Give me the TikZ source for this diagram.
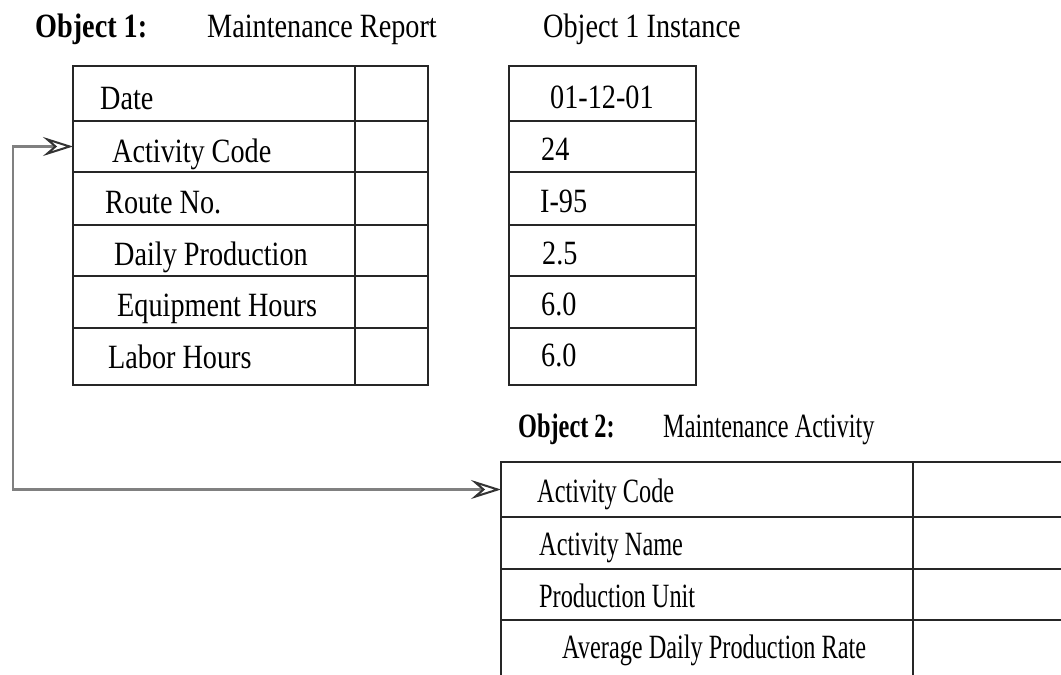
\documentclass[tikz,border=0pt]{standalone}
\usepackage{fontspec}
\setmainfont{Liberation Serif}[FakeStretch=0.83]
\newfontfamily\narrowfont{Liberation Serif}[FakeStretch=0.715]
\usetikzlibrary{arrows.meta}
\tikzset{
  cell/.style={draw=black!85, line width=1.7pt, rectangle, anchor=north west, inner sep=0pt, outer sep=0pt},
  txt/.style={anchor=base west, inner sep=0pt, font=\fontsize{34}{40}\selectfont},
  btxt/.style={txt, font=\fontsize{34}{40}\selectfont\bfseries},
  ntxt/.style={anchor=base west, inner sep=0pt, font=\fontsize{34}{40}\narrowfont},
  nbtxt/.style={anchor=base west, inner sep=0pt, font=\fontsize{34}{40}\narrowfont\bfseries},
  opentip/.tip={Stealth[open, length=30pt, width=19pt, inset=11pt, line width=2pt, color=black!80]},
  conn/.style={draw=black!50, line width=2.6pt, opentip-opentip}
}
\begin{document}
\begin{tikzpicture}[x=1pt,y=-1pt]
\clip (0,0) rectangle (1061,675);
\fill[white] (0,0) rectangle (1061,675);
% headers
\node[btxt] (h1) at (35,37) {Object 1:};
\node[txt] (h1n) at (207,37) {Maintenance Report};
\node[txt] (h1i) at (543,37) {Object 1 Instance};
\node[nbtxt] (h2) at (518,437) {Object 2:};
\node[ntxt] (h2n) at (663,437) {Maintenance Activity};
% table 1 : labels
\node[cell, minimum width=282pt, minimum height=55pt] (t1a) at (73,66) {};
\node[cell, minimum width=282pt, minimum height=51pt] (t1b) at (73,121) {};
\node[cell, minimum width=282pt, minimum height=53pt] (t1c) at (73,172) {};
\node[cell, minimum width=282pt, minimum height=51pt] (t1d) at (73,225) {};
\node[cell, minimum width=282pt, minimum height=52pt] (t1e) at (73,276) {};
\node[cell, minimum width=282pt, minimum height=57pt] (t1f) at (73,328) {};
% table 1 : value column
\node[cell, minimum width=73pt, minimum height=55pt] (v1a) at (355,66) {};
\node[cell, minimum width=73pt, minimum height=51pt] (v1b) at (355,121) {};
\node[cell, minimum width=73pt, minimum height=53pt] (v1c) at (355,172) {};
\node[cell, minimum width=73pt, minimum height=51pt] (v1d) at (355,225) {};
\node[cell, minimum width=73pt, minimum height=52pt] (v1e) at (355,276) {};
\node[cell, minimum width=73pt, minimum height=57pt] (v1f) at (355,328) {};
% instance table
\node[cell, minimum width=187pt, minimum height=55pt] (i1a) at (509,66) {};
\node[cell, minimum width=187pt, minimum height=51pt] (i1b) at (509,121) {};
\node[cell, minimum width=187pt, minimum height=53pt] (i1c) at (509,172) {};
\node[cell, minimum width=187pt, minimum height=51pt] (i1d) at (509,225) {};
\node[cell, minimum width=187pt, minimum height=52pt] (i1e) at (509,276) {};
\node[cell, minimum width=187pt, minimum height=57pt] (i1f) at (509,328) {};
% table 2
\node[cell, minimum width=412pt, minimum height=55pt] (t2a) at (501,462) {};
\node[cell, minimum width=412pt, minimum height=52pt] (t2b) at (501,517) {};
\node[cell, minimum width=412pt, minimum height=51pt] (t2c) at (501,569) {};
\node[cell, minimum width=412pt, minimum height=90pt] (t2d) at (501,620) {};
\node[cell, minimum width=200pt, minimum height=55pt] (v2a) at (913,462) {};
\node[cell, minimum width=200pt, minimum height=52pt] (v2b) at (913,517) {};
\node[cell, minimum width=200pt, minimum height=51pt] (v2c) at (913,569) {};
\node[cell, minimum width=200pt, minimum height=90pt] (v2d) at (913,620) {};
% table 1 texts
\node[txt] (l1a) at (100,109) {Date};
\node[txt] (l1b) at (112,162) {Activity Code};
\node[txt] (l1c) at (105,213) {Route No.};
\node[txt] (l1d) at (114,265) {Daily Production};
\node[txt] (l1e) at (117,316) {Equipment Hours};
\node[txt] (l1f) at (108,368) {Labor Hours};
% instance texts
\node[txt] (x1a) at (550,108) {01-12-01};
\node[txt] (x1b) at (541,160) {24};
\node[txt] (x1c) at (540,212) {I-95};
\node[txt] (x1d) at (542,264) {2.5};
\node[txt] (x1e) at (541,315) {6.0};
\node[txt] (x1f) at (541,366) {6.0};
% table 2 texts
\node[ntxt] (l2a) at (537,502) {Activity Code};
\node[ntxt] (l2b) at (539,555) {Activity Name};
\node[ntxt] (l2c) at (539,607) {Production Unit};
\node[ntxt] (l2d) at (562,658) {Average Daily Production Rate};
% connector
\draw[conn] (t1b.west) -- ++(-60,0) |- (t2a.west);
\end{tikzpicture}
\end{document}
